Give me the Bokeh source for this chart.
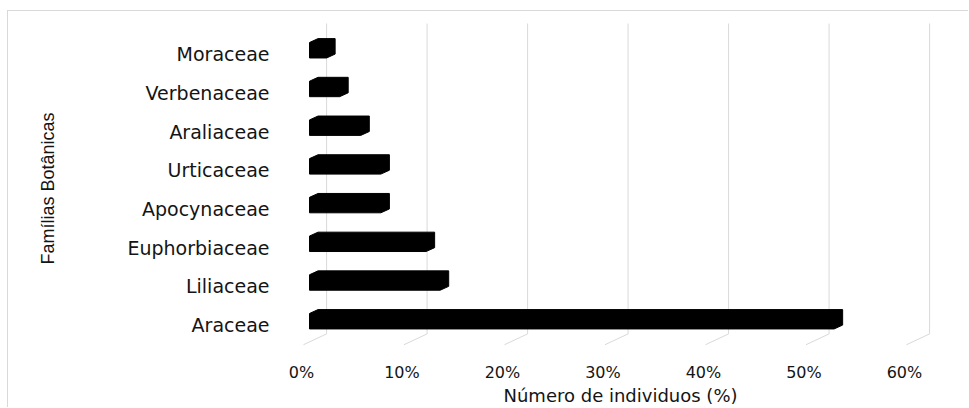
from bokeh.plotting import figure
from bokeh.models import Range1d, LinearAxis, FixedTicker, PrintfTickFormatter, ColumnDataSource
from bokeh.embed import file_html
from bokeh.resources import INLINE

# ---- data ----
families = ["Araceae", "Liliaceae", "Euphorbiaceae", "Apocynaceae",
            "Urticaceae", "Araliaceae", "Verbenaceae", "Moraceae"]
percent = [52.2, 13.0, 11.6, 7.1, 7.1, 5.1, 3.0, 1.7]
x_ticks = [0, 10, 20, 30, 40, 50, 60]
x_title = "Número de individuos (%)"
y_title = "Famílias Botânicas"

# ---- 3D-look geometry (style constants, in axis units) ----
BACK = 1.7          # back wall offset of gridlines
FRONT_LABEL = -0.8  # front plane offset of tick labels
FRONT_FLOOR = -0.6  # front end of floor lines
BAR_SHIFT = 0.15    # bars sit slightly above their labels
BAR_HALF = 0.25
BEVEL_DX = 0.85
BEVEL_DY = 0.10
GRID_TOP = 7.79
GRID_BOTTOM = -0.228
FLOOR_BOTTOM = -0.508

X0, X1 = -1.891, 63.781
Y0, Y1 = -0.812, 7.868

# bar polygons built from the values
xs, ys = [], []
for i, v in enumerate(percent):
    b = i + BAR_SHIFT - BAR_HALF
    t = i + BAR_SHIFT + BAR_HALF
    xs.append([0, 0, BEVEL_DX, v + BEVEL_DX, v + BEVEL_DX, v])
    ys.append([b, t - BEVEL_DY, t, t, b + BEVEL_DY, b])
bars = ColumnDataSource(dict(xs=xs, ys=ys, family=families, pct=percent))

p = figure(width=961, height=397, output_backend="svg", toolbar_location=None,
           x_range=Range1d(X0, X1), y_range=Range1d(Y0, Y1),
           x_axis_location=None, y_axis_location="left",
           min_border_left=282, min_border_right=19,
           min_border_top=9, min_border_bottom=46)
p.styles = {"margin-left": "7px", "margin-top": "10px",
            "border-left": "1px solid #d9d9d9", "border-top": "1px solid #d9d9d9"}
p.outline_line_color = None
p.grid.grid_line_color = None
p.background_fill_color = "white"
p.border_fill_color = "white"

# gridlines on the back wall and floor lines
gx = [t + BACK for t in x_ticks]
p.segment(x0=gx, y0=[GRID_BOTTOM] * len(gx), x1=gx, y1=[GRID_TOP] * len(gx),
          line_color="#d9d9d9", line_width=1)
p.segment(x0=gx, y0=[GRID_BOTTOM] * len(gx),
          x1=[t + FRONT_FLOOR for t in x_ticks], y1=[FLOOR_BOTTOM] * len(gx),
          line_color="#d9d9d9", line_width=1)

# bars
p.patches("xs", "ys", source=bars, fill_color="black", line_color="black", line_width=1)

# x axis on the front plane
p.extra_x_ranges = {"front": Range1d(X0 - FRONT_LABEL, X1 - FRONT_LABEL)}
xaxis = LinearAxis(x_range_name="front", ticker=FixedTicker(ticks=x_ticks),
                   formatter=PrintfTickFormatter(format="%d%%"),
                   axis_label=x_title)
xaxis.axis_line_color = None
xaxis.major_tick_line_color = None
xaxis.minor_tick_line_color = None
xaxis.major_label_standoff = 0
xaxis.major_label_text_font = "DejaVu Sans"
xaxis.major_label_text_font_size = "16px"
xaxis.major_label_text_color = "#141414"
xaxis.axis_label_standoff = 0
xaxis.axis_label_text_font = "DejaVu Sans"
xaxis.axis_label_text_font_size = "18px"
xaxis.axis_label_text_font_style = "normal"
xaxis.axis_label_text_color = "#141414"
p.add_layout(xaxis, "below")

# y axis with family names
ya = p.yaxis[0]
ya.ticker = FixedTicker(ticks=list(range(len(families))))
ya.major_label_overrides = {i: f for i, f in enumerate(families)}
ya.axis_line_color = None
ya.major_tick_line_color = None
ya.minor_tick_line_color = None
ya.major_label_standoff = 15
ya.major_label_text_font = "DejaVu Sans"
ya.major_label_text_font_size = "19px"
ya.major_label_text_color = "#141414"
ya.axis_label = y_title
ya.axis_label_standoff = 66
ya.axis_label_text_font = "Liberation Sans"
ya.axis_label_text_font_size = "18px"
ya.axis_label_text_font_style = "normal"
ya.axis_label_text_color = "#141414"

open("out.html", "w").write(file_html(p, INLINE))
